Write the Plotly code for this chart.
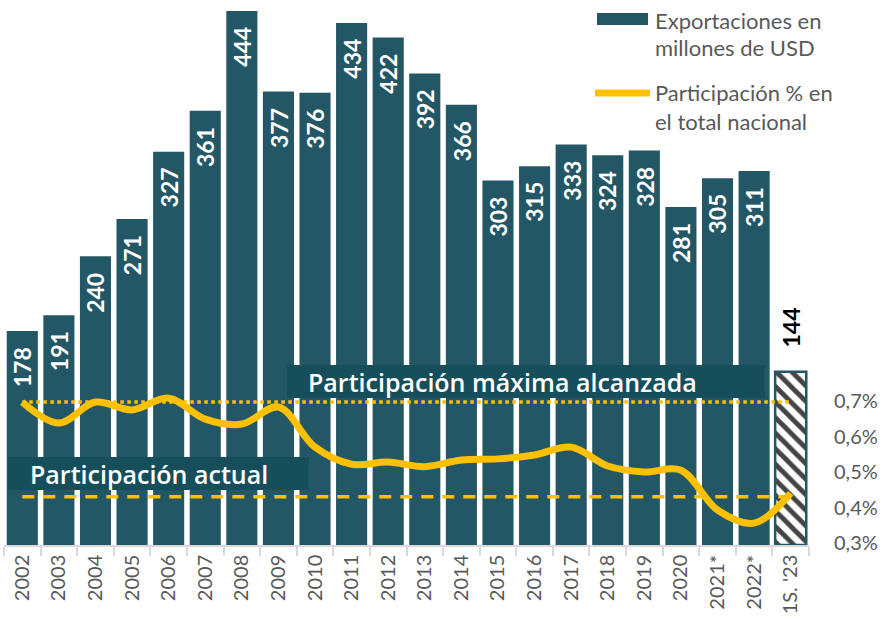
import plotly.graph_objects as go

# ---- data ----
years = ["2002", "2003", "2004", "2005", "2006", "2007", "2008", "2009", "2010",
         "2011", "2012", "2013", "2014", "2015", "2016", "2017", "2018", "2019",
         "2020", "2021*", "2022*", "1S. '23"]
exports = [178, 191, 240, 271, 327, 361, 444, 377, 376, 434, 422, 392, 366,
           303, 315, 333, 324, 328, 281, 305, 311, 144]
share = [0.697, 0.638, 0.697, 0.675, 0.708, 0.649, 0.635, 0.683, 0.570, 0.522,
         0.528, 0.515, 0.534, 0.537, 0.548, 0.570, 0.517, 0.500, 0.505, 0.393,
         0.356, 0.440]
share_max = 0.697
share_actual = 0.430
y2_ticks = [0.3, 0.4, 0.5, 0.6, 0.7]
y2_labels = ["0,3%", "0,4%", "0,5%", "0,6%", "0,7%"]

TEAL = "#235766"
BOX = "#174e5c"
YEL = "#FFC000"
GRAY = "#595959"
FONT = "Lato"
BOXFONT = "Open Sans"

W, H = 884, 619
L, R, T, B = 4, 75, 4, 74
PW, PH = W - L - R, H - T - B


def px(x):
    return (x - L) / PW


def py(y):
    return (H - B - y) / PH


n = len(years)
colors = [TEAL] * (n - 1) + ["white"]
shapes_pat = [""] * (n - 1) + ["\\"]
line_w = [0] * (n - 1) + [2.5]

fig = go.Figure()
fig.add_trace(go.Bar(
    x=years, y=exports, name="Exportaciones en millones de USD",
    marker=dict(color=colors,
                line=dict(color=TEAL, width=line_w),
                pattern=dict(shape=shapes_pat, fgcolor=TEAL, bgcolor="white",
                             size=11, solidity=0.45, fgopacity=1)),
    showlegend=False, hoverinfo="skip",
))
fig.add_trace(go.Scatter(
    x=[years[0], years[-1]], y=[share_max, share_max], yaxis="y2",
    mode="lines", line=dict(color=YEL, width=3.5, dash="dot"),
    showlegend=False, hoverinfo="skip",
))
fig.add_trace(go.Scatter(
    x=[years[0], years[-1]], y=[share_actual, share_actual], yaxis="y2",
    mode="lines", line=dict(color=YEL, width=3.5, dash="12px,9px"),
    showlegend=False, hoverinfo="skip",
))
fig.add_trace(go.Scatter(
    x=years, y=share, yaxis="y2", mode="lines",
    line=dict(color=YEL, width=7, shape="spline", smoothing=1.0),
    showlegend=False, hoverinfo="skip",
))

annotations = []
for i, v in enumerate(exports):
    if i < n - 1:
        annotations.append(dict(
            x=i, y=v, xref="x", yref="y", text=str(v), textangle=-90,
            showarrow=False, yanchor="top", yshift=-14,
            font=dict(family=FONT, size=23, color="white", weight="bold")))
    else:
        annotations.append(dict(
            x=i, y=v, xref="x", yref="y", text=str(v), textangle=-90,
            showarrow=False, yanchor="bottom", yshift=22,
            font=dict(family=FONT, size=23, color="black", weight="bold")))

# boxes with text
shapes = [
    dict(type="rect", xref="paper", yref="paper", x0=px(287), x1=px(765),
         y0=py(398), y1=py(365), fillcolor=BOX, line=dict(width=0), layer="above"),
    dict(type="rect", xref="paper", yref="paper", x0=px(8), x1=px(309),
         y0=py(490), y1=py(457), fillcolor=BOX, line=dict(width=0), layer="above"),
    # legend symbols
    dict(type="rect", xref="paper", yref="paper", x0=px(597), x1=px(648),
         y0=py(25), y1=py(13), fillcolor=TEAL, line=dict(width=0)),
    dict(type="line", xref="paper", yref="paper", x0=px(595), x1=px(650),
         y0=py(93), y1=py(93), line=dict(color=YEL, width=7)),
]
annotations += [
    dict(x=px(306), y=py(382), xref="paper", yref="paper", xanchor="left",
         yanchor="middle", showarrow=False, text="Participación máxima alcanzada",
         font=dict(family=BOXFONT, size=25, color="white", weight=600)),
    dict(x=px(28), y=py(474), xref="paper", yref="paper", xanchor="left",
         yanchor="middle", showarrow=False, text="Participación actual",
         font=dict(family=BOXFONT, size=25, color="white", weight=600)),
]
for txt, yy in [("Exportaciones en", 20), ("millones de USD", 47),
                ("Participación % en", 93), ("el total nacional", 122)]:
    annotations.append(dict(
        x=px(653), y=py(yy), xref="paper", yref="paper", xanchor="left",
        yanchor="middle", showarrow=False, text=txt,
        font=dict(family=FONT, size=22, color=GRAY)))

# y2 range derived from pixel calibration: 0.3 at 543px, 35.5px per 0.1
y2_lo = 0.3 - 2 / 355
y2_hi = y2_lo + PH / 355

fig.update_layout(
    width=W, height=H,
    margin=dict(l=L, r=R, t=T, b=B, autoexpand=False),
    paper_bgcolor="white", plot_bgcolor="white",
    bargap=0.15,
    font=dict(family=FONT, color=GRAY),
    xaxis=dict(type="category", tickangle=-90, tickson="boundaries",
               ticks="outside", ticklen=9, tickcolor="#d9d9d9", tickwidth=1.5,
               showline=True, linecolor="#d9d9d9", linewidth=1.5,
               showgrid=False, tickfont=dict(family=FONT, size=20, color=GRAY),
               automargin=False, range=[-0.5, n - 0.5]),
    yaxis=dict(range=[0, PH / 1.2027], visible=False, showgrid=False),
    yaxis2=dict(overlaying="y", side="right", range=[y2_lo, y2_hi],
                tickvals=y2_ticks, ticktext=y2_labels, showgrid=False,
                zeroline=False, showline=False, ticks="outside", ticklen=20,
                tickcolor="rgba(0,0,0,0)",
                tickfont=dict(family=FONT, size=20, color=GRAY), automargin=False),
    shapes=shapes, annotations=annotations, showlegend=False,
)

fig.write_html("out.html", config={"displayModeBar": False},
               post_script="document.body.style.margin='0';document.body.style.overflow='hidden';")
